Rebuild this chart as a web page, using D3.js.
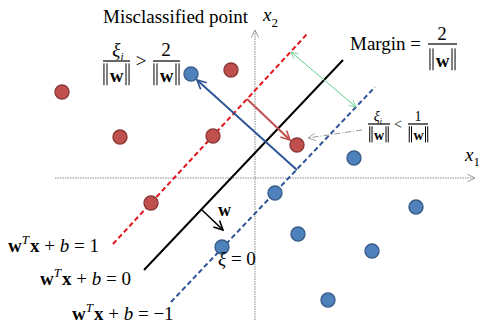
<!DOCTYPE html>
<html>
<head>
<meta charset="utf-8">
<script src="https://cdn.jsdelivr.net/npm/d3@7"></script>
<style>
  body { margin: 0; background: #fff; }
  text { font-family: "Liberation Serif", "Times New Roman", serif; fill: #000; }
</style>
</head>
<body>
<div id="chart"></div>
<script>
// Data, in (x1, x2) units
let redPoints = [[-19.3, 8.6], [-13.5, 4.1], [-10.4, -2.5], [-2.4, 10.8], [-4.2, 4.2], [4.2, 3.3]]
let bluePoints = [[-6.4, 10.4], [9.9, 2.0], [16.1, -2.9], [4.3, -5.6], [11.7, -7.3], [7.3, -12.2], [2.0, -1.5], [-3.3, -6.9]]
let planeNames = ['plus', 'zero', 'minus']
let planeEnds = [
  [[-14.2, -6.6], [5.3, 14.5]],
  [[-11.1, -9.2], [8.8, 11.8]],
  [[-8.4, -12.4], [12.0, 9.1]]
]
let xAxisExtent = [-20, 22]
let yAxisExtent = [-14.2, 14.8]
let arrowNames = ['slackBlue', 'slackRed', 'margin', 'normal', 'pointer']
let arrowEnds = [
  [[4.2, 0.8], [-5.8, 9.8]],
  [[-0.8, 7.9], [3.5, 3.8]],
  [[3.6, 12.6], [10.1, 7.1]],
  [[-5.3, -3.2], [-3.2, -5.2]],
  [[10.7, 4.8], [5.3, 4.0]]
]

let width = 479
let height = 323

let svg = d3.select('#chart')
  .append('svg')
  .attr('width', width)
  .attr('height', height)

let x = d3.scaleLinear().domain([-25.5, 22.4]).range([0, width])
let y = d3.scaleLinear().domain([17.8, -14.5]).range([0, height])

// Arrow markers
let defs = svg.append('defs')
function addMarker(id, color, size, sw) {
  defs.append('marker')
    .attr('id', id)
    .attr('markerUnits', 'userSpaceOnUse')
    .attr('viewBox', '-1 -6 12 12')
    .attr('refX', 9)
    .attr('refY', 0)
    .attr('markerWidth', size)
    .attr('markerHeight', size)
    .attr('orient', 'auto-start-reverse')
    .append('path')
    .attr('d', 'M0,-4.5L9,0L0,4.5')
    .attr('fill', 'none')
    .attr('stroke', color)
    .attr('stroke-width', sw)
}
addMarker('ah-axis', '#888', 10, 1)
addMarker('ah-blue', '#2e5597', 12, 1.6)
addMarker('ah-red', '#c0504d', 12, 1.6)
addMarker('ah-green', '#5fd08a', 9, 1)
addMarker('ah-black', '#000', 12, 1.6)
addMarker('ah-gray', '#999', 10, 1)

// Axes
svg.append('line')
  .attr('x1', x(xAxisExtent[0])).attr('y1', y(0))
  .attr('x2', x(xAxisExtent[1])).attr('y2', y(0))
  .attr('stroke', '#888').attr('stroke-width', 1)
  .attr('stroke-dasharray', '1.5,1')
  .attr('marker-end', 'url(#ah-axis)')

svg.append('line')
  .attr('x1', x(0)).attr('y1', y(yAxisExtent[0]))
  .attr('x2', x(0)).attr('y2', y(yAxisExtent[1]))
  .attr('stroke', '#888').attr('stroke-width', 1)
  .attr('stroke-dasharray', '1.5,1')
  .attr('marker-end', 'url(#ah-axis)')

// Hyperplanes
let planeStyle = {
  plus: {stroke: '#e2141c', dash: '5,3'},
  zero: {stroke: '#000', dash: null},
  minus: {stroke: '#2e5597', dash: '5,3'}
}
svg.append('g')
  .selectAll('line')
  .data(planeNames)
  .enter().append('line')
  .attr('x1', (d, i) => x(planeEnds[i][0][0]))
  .attr('y1', (d, i) => y(planeEnds[i][0][1]))
  .attr('x2', (d, i) => x(planeEnds[i][1][0]))
  .attr('y2', (d, i) => y(planeEnds[i][1][1]))
  .attr('stroke', d => planeStyle[d].stroke)
  .attr('stroke-width', 2)
  .attr('stroke-dasharray', d => planeStyle[d].dash)

// Arrows
let arrowStyle = {
  slackBlue: {stroke: '#2e5597', w: 2, end: 'ah-blue'},
  slackRed: {stroke: '#c0504d', w: 2, end: 'ah-red'},
  margin: {stroke: '#5fd08a', w: 1, end: 'ah-green', start: 'ah-green'},
  normal: {stroke: '#000', w: 1.6, end: 'ah-black'},
  pointer: {stroke: '#999', w: 1, end: 'ah-gray', dash: '6,2,1,2'}
}
svg.append('g')
  .selectAll('line')
  .data(arrowNames)
  .enter().append('line')
  .attr('x1', (d, i) => x(arrowEnds[i][0][0]))
  .attr('y1', (d, i) => y(arrowEnds[i][0][1]))
  .attr('x2', (d, i) => x(arrowEnds[i][1][0]))
  .attr('y2', (d, i) => y(arrowEnds[i][1][1]))
  .attr('stroke', d => arrowStyle[d].stroke)
  .attr('stroke-width', d => arrowStyle[d].w)
  .attr('stroke-dasharray', d => arrowStyle[d].dash || null)
  .attr('marker-end', d => `url(#${arrowStyle[d].end})`)
  .attr('marker-start', d => arrowStyle[d].start ? `url(#${arrowStyle[d].start})` : null)

// Points
function drawPoints(data, fill, stroke) {
  svg.append('g')
    .selectAll('circle')
    .data(data)
    .enter().append('circle')
    .attr('cx', d => x(d[0]))
    .attr('cy', d => y(d[1]))
    .attr('r', 7)
    .attr('fill', fill)
    .attr('stroke', stroke)
    .attr('stroke-width', 1.4)
}
drawPoints(redPoints, '#c0504d', '#8c3836')
drawPoints(bluePoints, '#4f81bd', '#385d8a')

// Text helpers
let txt = svg.append('g')

function normW(cx, base, size) {
  txt.append('text')
    .attr('x', cx).attr('y', base)
    .attr('text-anchor', 'middle')
    .style('font-weight', 'bold')
    .style('font-size', size + 'px')
    .text('w')
  let top = base - size * 0.98
  let bot = base + size * 0.17
  ;[-0.66, -0.5, 0.5, 0.66].forEach(function(o) {
    txt.append('line')
      .attr('x1', cx + o * size).attr('x2', cx + o * size)
      .attr('y1', top).attr('y2', bot)
      .attr('stroke', '#000').attr('stroke-width', 1)
  })
}

function xiI(cx, base, size) {
  let t = txt.append('text')
    .attr('x', cx).attr('y', base)
    .attr('text-anchor', 'middle')
    .style('font-size', size + 'px')
  t.append('tspan').style('font-style', 'italic').text('ξ')
  t.append('tspan').style('font-style', 'italic')
    .style('font-size', (size * 0.6) + 'px')
    .attr('dy', size * 0.2).text('i')
}

function plain(xp, base, size, s, anchor, style) {
  return txt.append('text')
    .attr('x', xp).attr('y', base)
    .attr('text-anchor', anchor || 'start')
    .style('font-size', size + 'px')
    .style('font-style', style || 'normal')
    .text(s)
}

function bar(x1, x2, yy) {
  txt.append('line')
    .attr('x1', x1).attr('x2', x2)
    .attr('y1', yy).attr('y2', yy)
    .attr('stroke', '#000').attr('stroke-width', 1.2)
}

// Top-left annotation
plain(103, 23, 19, 'Misclassified point')
xiI(118, 56, 19)
bar(103, 130, 61)
normW(116.5, 82, 19)
plain(141, 67, 19, '>', 'middle')
plain(166, 56, 19, '2', 'middle')
bar(153, 180, 61)
normW(166.5, 82, 19)

// Axis labels
let x2lab = plain(263, 21, 19, 'x', 'start', 'italic')
x2lab.append('tspan').attr('dy', 6).style('font-size', '13px').style('font-style', 'normal').text('2')
let x1lab = plain(465, 161, 19, 'x', 'start', 'italic')
x1lab.append('tspan').attr('dy', 5).style('font-size', '13px').style('font-style', 'normal').text('1')

// Margin
plain(350, 50, 19, 'Margin =')
plain(442, 40, 19, '2', 'middle')
bar(428, 457, 44)
normW(442.5, 67, 19)

// Small annotation
xiI(378, 121, 14)
bar(368, 390, 124)
normW(379, 140, 14)
plain(398, 129, 14, '<', 'middle')
plain(418, 121, 14, '1', 'middle')
bar(408, 428, 124)
normW(418.5, 140, 14)

// w label and xi = 0
txt.append('text').attr('x', 218).attr('y', 216)
  .style('font-size', '18px').style('font-weight', 'bold').text('w')
let xi0 = txt.append('text').attr('x', 218).attr('y', 265).style('font-size', '19px')
xi0.append('tspan').style('font-style', 'italic').text('ξ')
xi0.append('tspan').text(' = 0')

// Hyperplane equations
let eqRhs = ['1', '0', '\u22121']
let eqPos = [[8, 252], [40, 285], [72, 320]]
eqRhs.forEach(function(r, i) {
  let t = txt.append('text')
    .attr('x', eqPos[i][0]).attr('y', eqPos[i][1])
    .style('font-size', '19px')
  t.append('tspan').style('font-weight', 'bold').text('w')
  t.append('tspan').style('font-style', 'italic').style('font-size', '13px').attr('dy', -8).text('T')
  t.append('tspan').style('font-weight', 'bold').attr('dy', 8).attr('dx', 1).text('x')
  t.append('tspan').text(' + ')
  t.append('tspan').style('font-style', 'italic').text('b')
  t.append('tspan').text(' = ' + r)
})
</script>
</body>
</html>
